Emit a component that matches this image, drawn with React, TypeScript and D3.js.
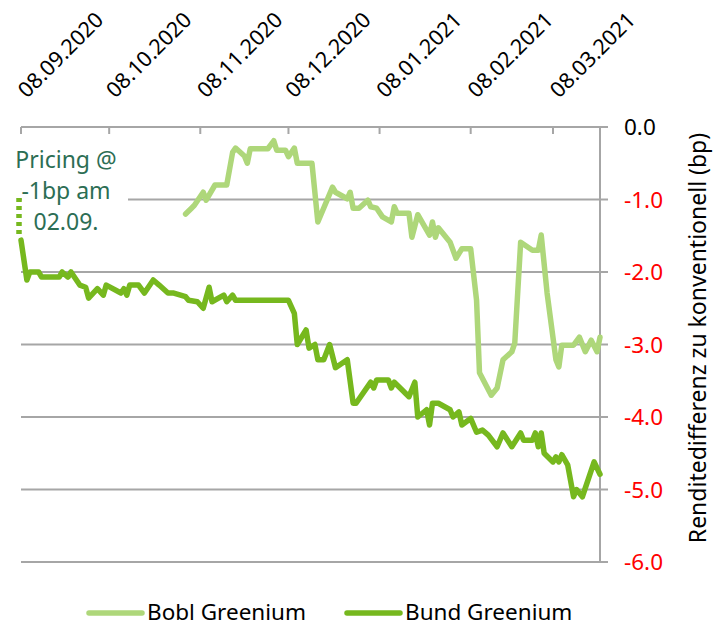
import React from 'react';
import * as d3 from 'd3';

const tickLabels = ['08.09.2020', '08.10.2020', '08.11.2020', '08.12.2020', '08.01.2021', '08.02.2021', '08.03.2021'];
const yTicks = [0, -1, -2, -3, -4, -5, -6];

const bundDates = [
  '2020-09-08', '2020-09-10', '2020-09-11', '2020-09-14', '2020-09-15', '2020-09-21', '2020-09-22', '2020-09-24',
  '2020-09-25', '2020-09-28', '2020-09-30', '2020-10-01', '2020-10-04', '2020-10-06', '2020-10-07', '2020-10-12',
  '2020-10-13', '2020-10-14', '2020-10-15', '2020-10-18', '2020-10-20', '2020-10-23', '2020-10-25', '2020-10-28',
  '2020-10-30', '2020-11-03', '2020-11-04', '2020-11-07', '2020-11-09', '2020-11-11', '2020-11-12', '2020-11-16',
  '2020-11-17', '2020-11-19', '2020-11-20', '2020-12-08', '2020-12-10', '2020-12-11', '2020-12-14', '2020-12-15',
  '2020-12-17', '2020-12-18', '2020-12-20', '2020-12-22', '2020-12-24', '2020-12-28', '2020-12-30', '2020-12-31',
  '2021-01-05', '2021-01-06', '2021-01-07', '2021-01-11', '2021-01-12', '2021-01-13', '2021-01-15', '2021-01-18',
  '2021-01-20', '2021-01-21', '2021-01-24', '2021-01-25', '2021-01-26', '2021-01-28', '2021-02-01', '2021-02-02',
  '2021-02-04', '2021-02-05', '2021-02-08', '2021-02-10', '2021-02-12', '2021-02-14', '2021-02-17', '2021-02-19',
  '2021-02-22', '2021-02-25', '2021-02-26', '2021-03-01', '2021-03-02', '2021-03-03', '2021-03-04', '2021-03-05',
  '2021-03-08', '2021-03-09', '2021-03-10', '2021-03-11', '2021-03-13', '2021-03-15', '2021-03-16', '2021-03-18',
  '2021-03-22', '2021-03-24',
];
const bundValues = [
  -1.56, -2.11, -2.0, -2.0, -2.07, -2.07, -2.0, -2.07,
  -2.0, -2.18, -2.21, -2.36, -2.23, -2.32, -2.18, -2.29,
  -2.23, -2.32, -2.18, -2.18, -2.29, -2.11, -2.18, -2.29,
  -2.29, -2.34, -2.39, -2.41, -2.5, -2.21, -2.41, -2.32,
  -2.41, -2.32, -2.39, -2.39, -2.57, -3.0, -2.8, -3.05,
  -3.0, -3.21, -3.21, -3.0, -3.32, -3.21, -3.81, -3.81,
  -3.52, -3.6, -3.49, -3.49, -3.6, -3.52, -3.6, -3.72,
  -3.52, -4.0, -3.9, -4.11, -3.81, -3.81, -3.9, -4.0,
  -3.93, -4.11, -4.02, -4.21, -4.18, -4.25, -4.41, -4.22,
  -4.41, -4.22, -4.32, -4.32, -4.22, -4.41, -4.22, -4.5,
  -4.62, -4.55, -4.62, -4.52, -4.66, -5.1, -5.0, -5.1,
  -4.62, -4.79,
];

const boblDates = [
  '2020-11-03', '2020-11-05', '2020-11-06', '2020-11-09', '2020-11-10', '2020-11-13', '2020-11-17', '2020-11-19',
  '2020-11-20', '2020-11-23', '2020-11-24', '2020-11-25', '2020-12-01', '2020-12-03', '2020-12-04', '2020-12-07',
  '2020-12-08', '2020-12-10', '2020-12-11', '2020-12-16', '2020-12-18', '2020-12-23', '2020-12-24', '2020-12-28',
  '2020-12-29', '2020-12-30', '2021-01-01', '2021-01-04', '2021-01-05', '2021-01-07', '2021-01-09', '2021-01-12',
  '2021-01-13', '2021-01-14', '2021-01-18', '2021-01-19', '2021-01-21', '2021-01-25', '2021-01-26', '2021-01-27',
  '2021-01-28', '2021-02-01', '2021-02-03', '2021-02-05', '2021-02-08', '2021-02-10', '2021-02-11', '2021-02-15',
  '2021-02-17', '2021-02-19', '2021-02-22', '2021-02-23', '2021-02-25', '2021-03-01', '2021-03-03', '2021-03-04',
  '2021-03-06', '2021-03-09', '2021-03-10', '2021-03-11', '2021-03-15', '2021-03-17', '2021-03-19', '2021-03-21',
  '2021-03-23', '2021-03-24',
];
const boblValues = [
  -1.2, -1.12, -1.08, -0.9, -1.01, -0.8, -0.8, -0.35,
  -0.29, -0.4, -0.5, -0.3, -0.3, -0.19, -0.32, -0.32,
  -0.41, -0.29, -0.5, -0.5, -1.31, -0.83, -0.9, -0.99,
  -0.9, -1.12, -1.12, -1.01, -1.1, -1.12, -1.24, -1.31,
  -1.1, -1.19, -1.19, -1.52, -1.21, -1.49, -1.31, -1.52,
  -1.39, -1.59, -1.81, -1.68, -1.68, -2.39, -3.39, -3.7,
  -3.6, -3.21, -3.1, -2.98, -1.59, -1.7, -1.7, -1.49,
  -2.29, -3.21, -3.31, -3.01, -3.01, -2.9, -3.1, -2.94,
  -3.1, -2.9,
];

// pricing marker: -1bp on the first day, down to where the series starts
const pricingDate = '2020-09-08';
const pricingRange = [-0.98, -1.53];

const seriesNames = ['Bobl Greenium', 'Bund Greenium'];
const seriesColors = ['#aed77a', '#76b81e'];

const font = '"Noto Sans", sans-serif';
const gridColor = '#a6a6a6';

export default function App() {
  const width = 714;
  const height = 628;
  const left = 21;
  const right = 600;
  const top = 127;
  const bottom = 562;

  const parseIso = d3.timeParse('%Y-%m-%d');
  const parseLabel = d3.timeParse('%d.%m.%Y');
  const fmt = (v: number) => d3.format('.1f')(v).replace('\u2212', '-');

  const x = d3.scaleTime()
    .domain([parseIso('2020-09-08') as Date, parseIso('2021-03-24') as Date])
    .range([left, right]);
  const y = d3.scaleLinear().domain([0, -6]).range([top, bottom]);

  const line = d3.line<[Date, number]>()
    .x(d => x(d[0]))
    .y(d => y(d[1]));

  const bund = bundDates.map((d, i) => [parseIso(d) as Date, bundValues[i]] as [Date, number]);
  const bobl = boblDates.map((d, i) => [parseIso(d) as Date, boblValues[i]] as [Date, number]);
  const px = x(parseIso(pricingDate) as Date) - 2;

  return (
    <svg width={width} height={height} viewBox={`0 0 ${width} ${height}`}
      style={{ position: 'absolute', left: 0, top: 0, background: '#fff' }}>
      {/* grid */}
      {yTicks.map(t => (
        <line key={t} x1={left} x2={right} y1={y(t)} y2={y(t)} stroke={gridColor} strokeWidth={2} />
      ))}
      {/* right axis */}
      <line x1={right} x2={right} y1={top} y2={bottom} stroke={gridColor} strokeWidth={2} />
      {yTicks.map(t => (
        <g key={'yt' + t}>
          <line x1={right} x2={right + 8} y1={y(t)} y2={y(t)} stroke={gridColor} strokeWidth={2} />
          <text x={624} y={y(t)} dy="0.36em" fontFamily={font} fontSize={22.5}
            fill={t === 0 ? '#000' : '#ff0000'}>{fmt(t)}</text>
        </g>
      ))}
      {/* top date axis */}
      {tickLabels.map(l => {
        const tx = x(parseLabel(l) as Date);
        return (
          <g key={l}>
            <line x1={tx} x2={tx} y1={top} y2={top + 7} stroke={gridColor} strokeWidth={2} />
            <text transform={`translate(${tx + 6},${99}) rotate(-45)`} fontFamily={font} fontSize={21.5}
              fill="#000">{l}</text>
          </g>
        );
      })}
      <line x1={right} x2={right} y1={top} y2={top + 7} stroke={gridColor} strokeWidth={2} />

      {/* annotation box */}
      <rect x={left + 1} y={142} width={106} height={96} fill="#fff" />
      <g fontFamily={font} fontSize={23} fill="#2c6e54" textAnchor="middle">
        <text x={66} y={168}>Pricing @</text>
        <text x={66} y={199}>-1bp am</text>
        <text x={66} y={230}>02.09.</text>
      </g>
      <line x1={px} x2={px} y1={y(pricingRange[0])} y2={y(pricingRange[1])}
        stroke={seriesColors[1]} strokeWidth={5.5} strokeDasharray="4 4" />

      {/* series */}
      <path d={line(bobl) ?? ''} fill="none" stroke={seriesColors[0]} strokeWidth={5.5}
        strokeLinejoin="round" strokeLinecap="round" />
      <path d={line(bund) ?? ''} fill="none" stroke={seriesColors[1]} strokeWidth={5.5}
        strokeLinejoin="round" strokeLinecap="round" />

      {/* y title */}
      <text transform="translate(706,338) rotate(-90)" textAnchor="middle" fontFamily={font}
        fontSize={23} fill="#000">Renditedifferenz zu konventionell (bp)</text>

      {/* legend */}
      {seriesNames.map((n, i) => {
        const lx = 89 + i * 258;
        return (
          <g key={n}>
            <line x1={lx} x2={lx + 53} y1={613} y2={613} stroke={seriesColors[i]} strokeWidth={5.5}
              strokeLinecap="round" />
            <text x={lx + 58} y={612} dy="0.36em" fontFamily={font} fontSize={22.5} fill="#000">{n}</text>
          </g>
        );
      })}
    </svg>
  );
}
